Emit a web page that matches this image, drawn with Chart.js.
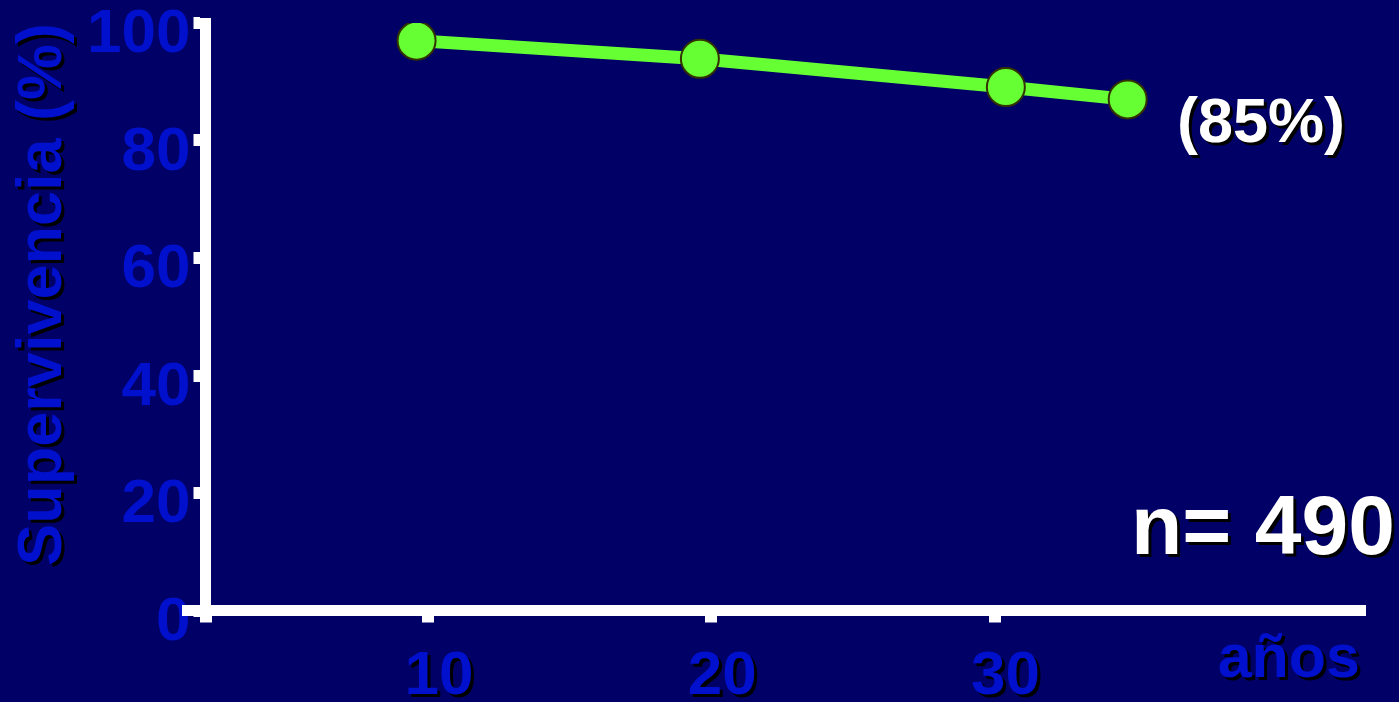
<!DOCTYPE html>
<html lang="es">
<head>
<meta charset="utf-8">
<title>Supervivencia</title>
<script src="https://cdn.jsdelivr.net/npm/chart.js@4/dist/chart.umd.min.js"></script>
<style>
  html, body { margin: 0; padding: 0; background: #000066; overflow: hidden; }
  #wrap { width: 1399px; height: 702px; position: relative; }
</style>
</head>
<body>
<div id="wrap"><canvas id="survChart"></canvas></div>
<script>
// values
const years = [9.6, 19.6, 30.4, 34.7];
const survival = [97.0, 93.9, 89.1, 87.0];
const xTickValues = [10, 20, 30];
const yTickValues = [0, 20, 40, 60, 80, 100];
const xMin = 2.15, xMax = 42.9;

const yTitle = 'Supervivencia (%)';
const xTitle = 'años';
const finalLabel = '(85%)';
const sampleLabel = 'n= 490';

const blue = '#0010cc';
const fontFamily = '"Liberation Sans", Arial, sans-serif';

function withShadow(ctx, fn) {
    ctx.save();
    ctx.shadowColor = '#000000';
    ctx.shadowOffsetX = 3;
    ctx.shadowOffsetY = 3;
    ctx.shadowBlur = 0;
    fn();
    ctx.restore();
}

// black drop shadow on x labels and both axis titles, like the slide
const textShadow = {
    id: 'textShadow',
    beforeDraw(chart) {
        const wrap = (scale, name) => {
            if (scale['_sh_' + name]) return;
            const orig = scale[name].bind(scale);
            scale[name] = function (...args) {
                withShadow(chart.ctx, () => orig(...args));
            };
            scale['_sh_' + name] = true;
        };
        wrap(chart.scales.x, 'drawLabels');
        wrap(chart.scales.x, 'drawTitle');
        wrap(chart.scales.y, 'drawTitle');
    }
};

const notes = {
    id: 'notes',
    afterDraw(chart) {
        const ctx = chart.ctx;
        const x = chart.scales.x, y = chart.scales.y;
        // x axis runs a bit past the y axis on the left
        ctx.save();
        ctx.fillStyle = '#ffffff';
        ctx.fillRect(182, y.getPixelForValue(0) - 5.5, x.left - 182, 11);
        ctx.restore();

        withShadow(ctx, () => {
            ctx.fillStyle = '#ffffff';
            ctx.textAlign = 'left';
            ctx.textBaseline = 'alphabetic';
            ctx.font = 'bold 63px ' + fontFamily;
            ctx.fillText(finalLabel, 1177, 142);
            ctx.font = 'bold 84px ' + fontFamily;
            ctx.fillText(sampleLabel, 1131, 554);
        });
    }
};

const ctx = document.getElementById('survChart').getContext('2d');
new Chart(ctx, {
    type: 'line',
    data: {
        datasets: [{
            data: years.map((v, i) => ({ x: v, y: survival[i] })),
            borderColor: '#66ff33',
            borderWidth: 13,
            pointRadius: 19,
            pointBackgroundColor: '#66ff33',
            pointBorderColor: '#333300',
            pointBorderWidth: 2,
            tension: 0,
            fill: false
        }]
    },
    options: {
        responsive: true,
        maintainAspectRatio: false,
        animation: false,
        layout: { padding: { top: 23, right: 39, left: 0, bottom: 0 } },
        plugins: { legend: { display: false }, tooltip: { enabled: false } },
        scales: {
            x: {
                type: 'linear',
                min: xMin,
                max: xMax,
                afterBuildTicks: s => {
                    s.ticks = [xMin].concat(xTickValues).map(v => ({ value: v }));
                },
                afterFit: s => {
                    s.height = 91.5;
                    s.paddingLeft = 0;
                    s.paddingRight = 0;
                },
                grid: {
                    drawOnChartArea: false,
                    color: '#ffffff',
                    lineWidth: 12,
                    tickLength: 12
                },
                border: { color: '#ffffff', width: 11 },
                ticks: {
                    color: blue,
                    font: { family: fontFamily, size: 62, weight: 'bold' },
                    padding: 17,
                    labelOffset: 11,
                    maxRotation: 0,
                    callback: v => xTickValues.includes(v) ? String(v) : ''
                },
                title: {
                    display: true,
                    text: xTitle,
                    align: 'end',
                    color: blue,
                    font: { family: fontFamily, size: 61, weight: 'bold' },
                    padding: { top: 0, bottom: 5 }
                }
            },
            y: {
                min: 0,
                max: 100,
                afterBuildTicks: s => {
                    s.ticks = yTickValues.map(v => ({ value: v }));
                },
                afterFit: s => {
                    s.width = 205.5;
                    s.paddingTop = 0;
                    s.paddingBottom = 0;
                },
                grid: {
                    drawOnChartArea: false,
                    color: '#ffffff',
                    lineWidth: 12,
                    tickLength: 12
                },
                border: { color: '#ffffff', width: 11 },
                ticks: {
                    color: blue,
                    font: { family: fontFamily, size: 62, weight: 'bold' },
                    padding: 3,
                    labelOffset: 12
                },
                title: {
                    display: true,
                    text: yTitle,
                    align: 'end',
                    color: blue,
                    font: { family: fontFamily, size: 63, weight: 'bold' },
                    padding: { top: 6, bottom: 0 }
                }
            }
        }
    },
    plugins: [textShadow, notes]
});
</script>
</body>
</html>
